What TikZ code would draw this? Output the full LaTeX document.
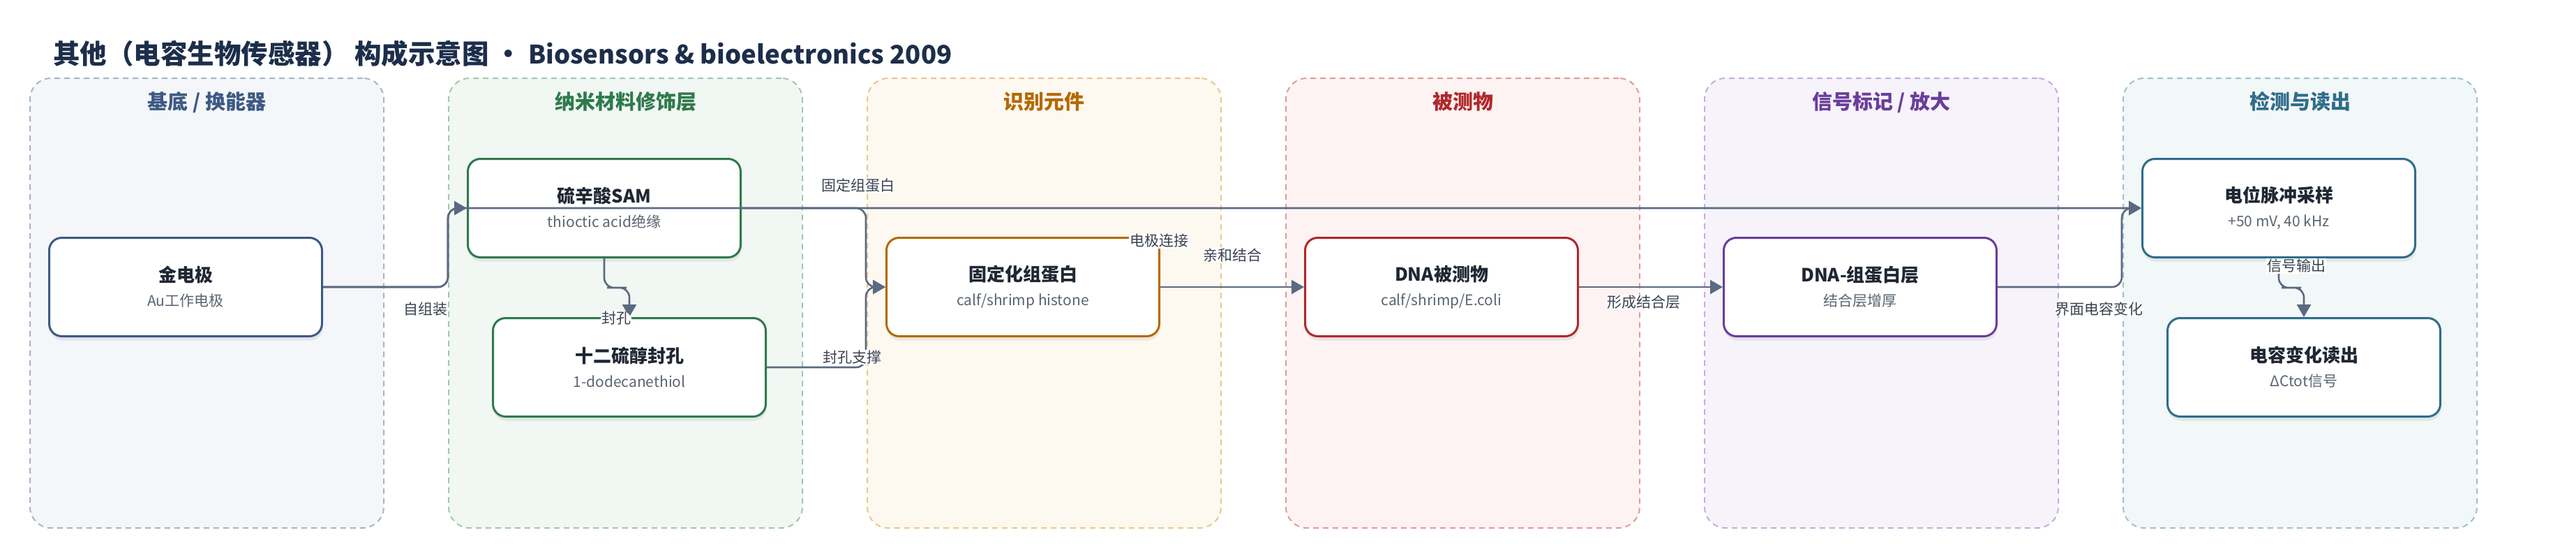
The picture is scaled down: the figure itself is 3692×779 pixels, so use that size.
\documentclass[tikz,border=0pt]{standalone}
\usepackage{fontspec}
\setmainfont{Noto Sans CJK SC}
\usetikzlibrary{calc, positioning, arrows.meta, shadows}
\definecolor{ink}{HTML}{1F2733}
\definecolor{subgray}{HTML}{5A6472}
\definecolor{titlec}{HTML}{1C2E4A}
\definecolor{edgec}{HTML}{5A6A80}
\definecolor{lblc}{HTML}{3A4250}
\definecolor{cA}{HTML}{3E5A84}\definecolor{cAf}{HTML}{F4F6FA}\definecolor{cAd}{HTML}{A9B5C7}
\definecolor{cB}{HTML}{2F7A4D}\definecolor{cBf}{HTML}{F1F7F3}\definecolor{cBd}{HTML}{9FCAAE}
\definecolor{cC}{HTML}{B36A00}\definecolor{cCf}{HTML}{FDF8F0}\definecolor{cCd}{HTML}{EBC78F}
\definecolor{cD}{HTML}{B0282C}\definecolor{cDf}{HTML}{FDF3F2}\definecolor{cDd}{HTML}{E29C9C}
\definecolor{cE}{HTML}{6A3D9B}\definecolor{cEf}{HTML}{F6F3FA}\definecolor{cEd}{HTML}{C8ACDF}
\definecolor{cF}{HTML}{2F6D8A}\definecolor{cFf}{HTML}{F2F7F8}\definecolor{cFd}{HTML}{9FC2CF}
\tikzstyle{lane}=[draw, dash pattern=on 8pt off 6pt, line width=2pt, rounded corners=30pt, minimum width=507pt, minimum height=644pt]
\tikzstyle{lanehead}=[font=\fontsize{29pt}{32pt}\selectfont\bfseries]
\tikzstyle{box}=[draw, line width=3pt, fill=white, rounded corners=18pt, minimum width=391pt, minimum height=141pt, align=center, text=ink, font=\fontsize{26pt}{34pt}\selectfont, drop shadow={shadow xshift=1pt, shadow yshift=-6pt, opacity=.14}]
\tikzstyle{flow}=[->, draw=edgec, line width=2.6pt, rounded corners=14pt]
\tikzstyle{lbl}=[fill=white, inner sep=1pt, text=lblc, font=\fontsize{21pt}{24pt}\selectfont]
\newcommand{\boxtxt}[2]{{\bfseries #1}\\[1pt]{\fontsize{21pt}{26pt}\selectfont\color{subgray}#2}}

\begin{document}
\begin{tikzpicture}[x=1pt, y=1pt, node distance=600pt, >={Triangle[length=18pt, width=20pt]}]
  \useasboundingbox (0,0) rectangle (3692,-779);
  \fill[white] (0,0) rectangle (3692,-779);
  \node [anchor=west, inner sep=0pt, text=titlec, font=\fontsize{38.5pt}{42pt}\selectfont\bfseries] (title) at (76,-77) {其他（电容生物传感器） 构成示意图 • {\fontsize{36.5pt}{42pt}\selectfont Biosensors \& bioelectronics 2009}};

  % lanes
  \node [lane, draw=cAd, fill=cAf] (laneA) at (296.5,-434) {};
  \node [lane, draw=cBd, fill=cBf] (laneB) [right of=laneA] {};
  \node [lane, draw=cCd, fill=cCf] (laneC) [right of=laneB] {};
  \node [lane, draw=cDd, fill=cDf] (laneD) [right of=laneC] {};
  \node [lane, draw=cEd, fill=cEf] (laneE) [right of=laneD] {};
  \node [lane, draw=cFd, fill=cFf] (laneF) [right of=laneE] {};
  \node [lanehead, text=cA, below=17pt of laneA.north] {基底 / 换能器};
  \node [lanehead, text=cB, below=17pt of laneB.north] {纳米材料修饰层};
  \node [lanehead, text=cC, below=17pt of laneC.north] {识别元件};
  \node [lanehead, text=cD, below=17pt of laneD.north] {被测物};
  \node [lanehead, text=cE, below=17pt of laneE.north] {信号标记 / 放大};
  \node [lanehead, text=cF, below=17pt of laneF.north] {检测与读出};

  % nodes
  \node [box, draw=cA] (jin) at (266,-411) {\boxtxt{金电极}{Au工作电极}};
  \node [box, draw=cB] (sam) at ($(jin)+(600,113)$) {\boxtxt{硫辛酸SAM}{thioctic acid绝缘}};
  \node [box, draw=cB] (seal) at ($(sam)+(36,-228)$) {\boxtxt{十二硫醇封孔}{1-dodecanethiol}};
  \node [box, draw=cC] (his) [right of=jin, node distance=1200pt] {\boxtxt{固定化组蛋白}{calf/shrimp histone}};
  \node [box, draw=cD] (dna) [right of=his] {\boxtxt{DNA被测物}{calf/shrimp/E.coli}};
  \node [box, draw=cE] (layer) [right of=dna] {\boxtxt{DNA-组蛋白层}{结合层增厚}};
  \node [box, draw=cF] (pulse) at ($(layer)+(600,113)$) {\boxtxt{电位脉冲采样}{+50 mV, 40 kHz}};
  \node [box, draw=cF] (read) at ($(pulse)+(36,-228)$) {\boxtxt{电容变化读出}{ΔCtot信号}};

  % connectors
  \draw[flow] (jin.east) -| ($(sam.west)+(-27,0)$) -- (pulse.west);
  \draw[flow] (jin.east) -| ($(sam.west)+(-27,0)$) node[lbl, pos=.41, below=19.5pt] {自组装} -- (sam.west);
  \draw[flow] (sam.south) |- ($(sam.south)!.5!(seal.north)$) -| (seal.north) node[lbl, pos=1, xshift=-19pt, yshift=-2pt] {封孔};
  \draw[flow] (sam.east) -| ($(his.west)+(-28,0)$) node[lbl, pos=.47, above=20pt] {固定组蛋白} -- (his.west);
  \draw[flow] (seal.east) -| ($(his.west)+(-28,0)$) node[lbl, pos=.43, above=2.5pt] {封孔支撑} -- (his.west);
  \draw[flow] (his.east) -- node[lbl, above=34pt] {亲和结合} (dna.west);
  \draw[flow] (dna.east) -- node[lbl, pos=.45, below=9.5pt] {形成结合层} (layer.west);
  \draw[flow] (layer.east) -| ($(pulse.west)+(-28,0)$) node[lbl, pos=.41, below=19.5pt] {界面电容变化} -- (pulse.west);
  \draw[flow] (pulse.south) |- ($(pulse.south)!.5!(read.north)$) -| (read.north);
  \node [lbl] at ($(pulse.south)+(25,-11)$) {信号输出};
  \node [lbl] at ($(his.north east)+(-2,-6)$) {电极连接};
\end{tikzpicture}
\end{document}
